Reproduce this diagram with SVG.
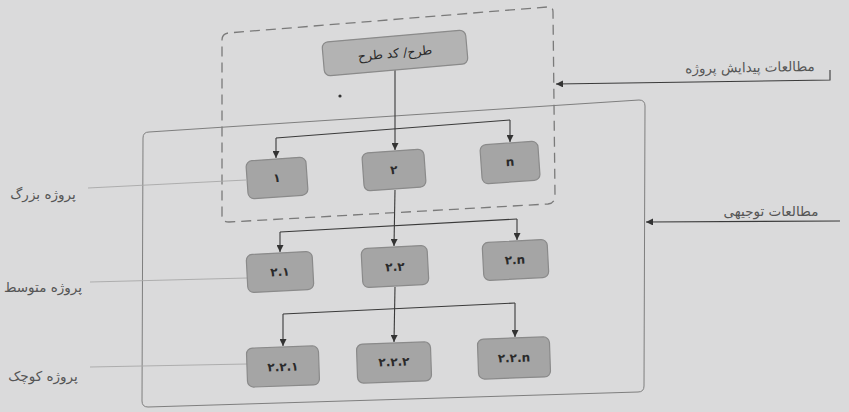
<svg xmlns="http://www.w3.org/2000/svg" width="849" height="412" viewBox="0 0 849 412">
<defs>
<marker id="arr" viewBox="0 0 10 10" refX="10" refY="5" markerWidth="7" markerHeight="7" markerUnits="userSpaceOnUse" orient="auto">
<path d="M0,0 L10,5 L0,10 Z" fill="#333"/>
</marker>
<style>
.node rect{fill:#a5a5a5;stroke:#8a8a8a;stroke-width:1.2}
.node text{font-family:"DejaVu Sans",sans-serif;font-size:12px;font-weight:bold;fill:#2a2a2a;text-anchor:middle;dominant-baseline:central}
.conn{fill:none;stroke:#3a3a3a;stroke-width:1.1}
.guide{fill:none;stroke:#a8a8a8;stroke-width:0.9}
.lbl{font-family:"DejaVu Sans",sans-serif;font-size:13.5px;fill:#555;text-anchor:middle}
</style>
</defs>
<rect width="849" height="412" fill="#dadadb"/>

<g id="frames">
<path d="M222,40 Q222,34 228,33 L547,7 Q553,6 553,12 L555,196 Q555,203 548,204 L229,222 Q222,222 222,216 Z" fill="none" stroke="#7a7a7a" stroke-width="1.3" stroke-dasharray="10,6"/>
<path d="M143,138 Q143,132 149,132 L639,100 Q645,100 645,106 L644,386 Q644,392 638,392 L148,407 Q142,407 142,401 Z" fill="none" stroke="#7e7e7e" stroke-width="1"/>
</g>

<g id="labels">
<text class="lbl" x="750" y="72" transform="rotate(-1 750 72)">مطالعات پیدایش پروژه</text>
<text class="lbl" x="771" y="216">مطالعات توجیهی</text>
<text class="lbl" x="43" y="199">پروژه بزرگ</text>
<text class="lbl" x="43" y="292">پروژه متوسط</text>
<text class="lbl" x="43" y="381">پروژه کوچک</text>
<circle cx="340" cy="96" r="1.6" fill="#333"/>
</g>

<g id="connectors">
<path class="conn" d="M395,68 L395,150" marker-end="url(#arr)"/>
<path class="conn" d="M276,138 L510,120"/>
<path class="conn" d="M276,138 L276,158" marker-end="url(#arr)"/>
<path class="conn" d="M510,120 L510,142" marker-end="url(#arr)"/>
<path class="conn" d="M395,190 L394,246" marker-end="url(#arr)"/>
<path class="conn" d="M280,232 L517,219"/>
<path class="conn" d="M280,232 L280,252" marker-end="url(#arr)"/>
<path class="conn" d="M517,219 L517,240" marker-end="url(#arr)"/>
<path class="conn" d="M395,287 L394,342" marker-end="url(#arr)"/>
<path class="conn" d="M283,314 L515,303"/>
<path class="conn" d="M283,314 L283,346" marker-end="url(#arr)"/>
<path class="conn" d="M515,303 L515,337" marker-end="url(#arr)"/>
<path class="conn" d="M830,70 L830,80 L556,84" marker-end="url(#arr)"/>
<path class="conn" d="M840,221 L646,222" marker-end="url(#arr)"/>
<path class="guide" d="M88,188 L246,180"/>
<path class="guide" d="M90,282 L247,278"/>
<path class="guide" d="M90,367 L247,364"/>
</g>

<g id="n-top" class="node" transform="rotate(-5 395 53)">
<rect x="323" y="36" width="144" height="34" rx="6" style="fill:#b3b3b3"/>
<text x="395" y="53" style="font-weight:normal;font-size:12.5px">طرح/ کد طرح</text>
</g>
<g id="n-1" class="node" transform="rotate(-4 277 178)">
<rect x="247" y="159" width="60" height="38" rx="6"/>
<text x="277" y="178">۱</text>
</g>
<g id="n-2" class="node" transform="rotate(-4 394 170)">
<rect x="363" y="151" width="62" height="38" rx="6"/>
<text x="394" y="170">۲</text>
</g>
<g id="n-n" class="node" transform="rotate(-4 510 162)">
<rect x="481" y="143" width="58" height="39" rx="6"/>
<text x="510" y="162">n</text>
</g>
<g id="n-2-1" class="node" transform="rotate(-3 280 272)">
<rect x="247" y="253" width="66" height="38" rx="6"/>
<text x="280" y="272">۲.۱</text>
</g>
<g id="n-2-2" class="node" transform="rotate(-3 395 267)">
<rect x="362" y="247" width="66" height="39" rx="6"/>
<text x="395" y="267">۲.۲</text>
</g>
<g id="n-2-n" class="node" transform="rotate(-3 515 260)">
<rect x="483" y="241" width="65" height="38" rx="6"/>
<text x="515" y="260">۲.n</text>
</g>
<g id="n-2-2-1" class="node" transform="rotate(-2 283 367)">
<rect x="247" y="347" width="72" height="39" rx="6"/>
<text x="283" y="367">۲.۲.۱</text>
</g>
<g id="n-2-2-2" class="node" transform="rotate(-2 394 362)">
<rect x="357" y="343" width="74" height="39" rx="6"/>
<text x="394" y="362">۲.۲.۲</text>
</g>
<g id="n-2-2-n" class="node" transform="rotate(-2 514 358)">
<rect x="478" y="338" width="72" height="40" rx="6"/>
<text x="514" y="358">۲.۲.n</text>
</g>
</svg>
